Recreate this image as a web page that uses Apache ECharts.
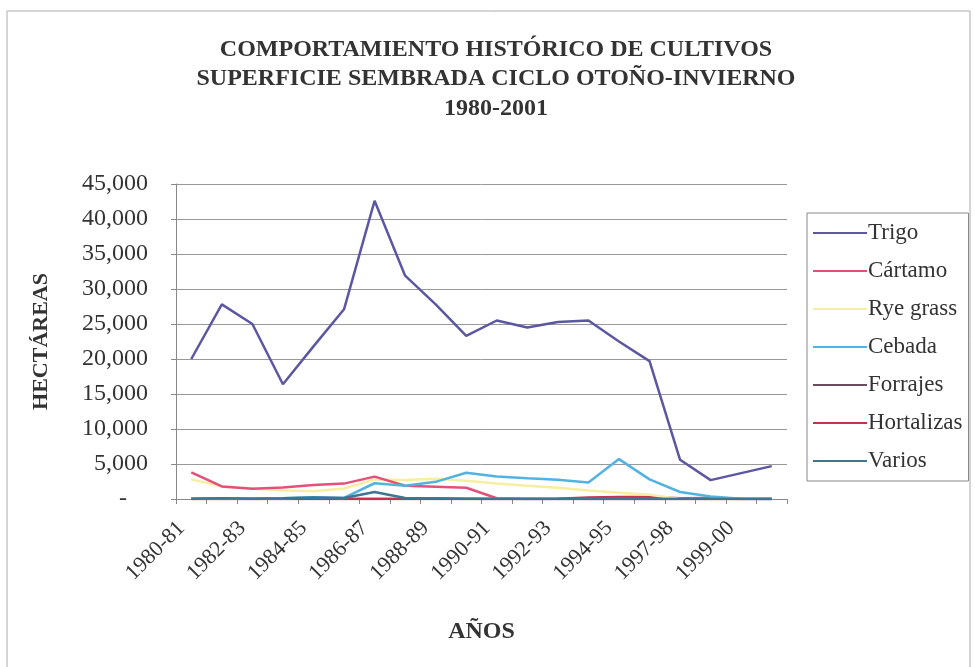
<!DOCTYPE html>
<html>
<head>
<meta charset="utf-8">
<script src="https://cdn.jsdelivr.net/npm/echarts@6/dist/echarts.min.js"></script>
<style>html,body{margin:0;padding:0;background:#fff;}#c{width:975px;height:667px;}</style>
</head>
<body>
<div id="c"></div>
<script>
var categories = ['1980-81','1981-82','1982-83','1983-84','1984-85','1985-86','1986-87','1987-88','1988-89','1989-90','1990-91','1991-92','1992-93','1993-94','1994-95','1995-96','1997-98','1998-99','1999-00','2000-01'];
var trigo      = [20000,27800,25000,16400,21800,27100,42600,31900,27800,23300,25500,24500,25300,25500,22500,19700,5600,2700,3700,4700];
var cartamo    = [3800,1800,1450,1650,2000,2200,3200,1900,1750,1600,100,0,0,0,0,0,0,0,0,0];
var ryeGrass   = [2800,1800,1500,1200,1100,1500,2800,2700,2900,2600,2200,1900,1600,1200,900,600,0,0,0,0];
var cebada     = [50,50,50,100,250,150,2250,1900,2450,3750,3200,2950,2750,2350,5700,2800,1000,350,50,0];
var forrajes   = [0,0,0,0,0,0,0,0,0,0,0,0,0,0,0,0,0,0,0,0];
var hortalizas = [0,0,0,0,0,0,0,0,0,0,0,0,50,200,280,300,100,150,0,0];
var varios     = [50,100,50,100,200,150,1000,150,100,50,0,0,0,0,0,0,0,0,0,0];

var seriesNames = ['Trigo','Cártamo','Rye grass','Cebada','Forrajes','Hortalizas','Varios'];
var seriesData = [trigo,cartamo,ryeGrass,cebada,forrajes,hortalizas,varios];
var colors = ['#5b57a3','#e4507a','#f6eea0','#52b2e2','#6a4c5e','#c43250','#3d7592'];
var zOrder = [10,6,5,7,3,4,8];

var serif = '"Liberation Serif","DejaVu Serif",serif';
var chart = echarts.init(document.getElementById('c'));
chart.setOption({
  animation:false,
  backgroundColor:'#ffffff',
  color: colors,
  title:{
    text:'COMPORTAMIENTO HISTÓRICO DE CULTIVOS\nSUPERFICIE SEMBRADA CICLO OTOÑO-INVIERNO\n1980-2001',
    left:491, top:30, textAlign:'center',
    textStyle:{fontFamily:serif,fontWeight:'bold',fontSize:24,color:'#333',lineHeight:29.5}
  },
  legend:{
    orient:'vertical', left:807, top:213,
    padding:[8,6,8,6], itemGap:14, itemWidth:54, itemHeight:2,
    borderColor:'#888', borderWidth:1,
    icon:'rect',
    textStyle:{fontFamily:serif,fontSize:23,color:'#333',lineHeight:24,padding:[0,0,0,-4]},
    data: seriesNames
  },
  graphic:[{type:'rect',shape:{x:7,y:11,width:963,height:670},style:{fill:'none',stroke:'#aaa',lineWidth:1},silent:true}],
  grid:{left:176,right:188,top:184,bottom:168,containLabel:false},
  xAxis:{
    type:'category', data:categories, boundaryGap:true,
    name:'AÑOS', nameLocation:'middle', nameGap:121,
    nameTextStyle:{fontFamily:serif,fontWeight:'bold',fontSize:24,color:'#333'},
    axisLine:{lineStyle:{color:'#888',width:1}},
    axisTick:{show:true,interval:0,length:5,lineStyle:{color:'#888'}},
    axisLabel:{interval:1,rotate:45,margin:16,fontFamily:serif,fontSize:22,color:'#333',
      formatter:function(v){ return '{l|'+v+'}'; },
      rich:{l:{fontFamily:serif,fontSize:22,color:'#333',padding:[0,14,0,0]}}},
    splitLine:{show:false}
  },
  yAxis:{
    type:'value', min:0, max:45000, interval:5000,
    name:'HECTÁREAS', nameLocation:'middle', nameGap:124, nameRotate:90,
    nameTextStyle:{fontFamily:serif,fontWeight:'bold',fontSize:22,color:'#333'},
    axisLine:{show:true,lineStyle:{color:'#888',width:1}},
    axisTick:{show:true,length:5,lineStyle:{color:'#888'}},
    axisLabel:{margin:28,fontFamily:serif,fontSize:24,color:'#333',
      formatter:function(v){ return v===0 ? '{d|-}' : v.toLocaleString('en-US'); },
      rich:{d:{fontFamily:serif,fontSize:24,color:'#333',padding:[0,21,0,0]}}},
    splitLine:{show:true,lineStyle:{color:'#999',width:1}}
  },
  series: seriesNames.map(function(n,i){
    return {name:n,type:'line',data:seriesData[i],symbol:'none',z:zOrder[i],
      lineStyle:{width:2.5,color:colors[i]},itemStyle:{color:colors[i]}};
  })
});
</script>
</body>
</html>
